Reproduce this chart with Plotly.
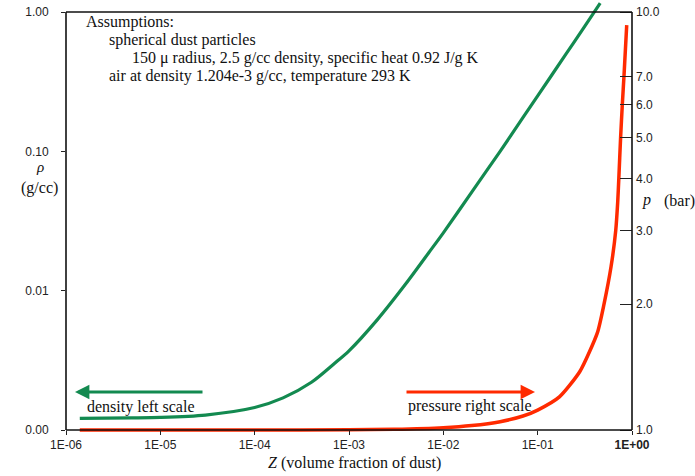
import plotly.graph_objects as go

# ---- data ----
z_density = [1.4e-6, 5e-6, 1e-5, 3e-5, 1e-4, 2e-4, 4e-4, 7e-4, 1e-3, 2e-3, 4e-3, 7e-3,
             1e-2, 2e-2, 4e-2, 7e-2, 0.1, 0.2, 0.3, 0.46]
rho_gcc = [0.00121, 0.00122, 0.00123, 0.00128, 0.00145, 0.0017, 0.0022, 0.0030, 0.0037,
           0.0062, 0.0112, 0.0187, 0.026, 0.051, 0.10, 0.175, 0.25, 0.50, 0.75, 1.16]

z_pressure = [1.4e-6, 1e-5, 1e-4, 1e-3, 3e-3, 1e-2, 2e-2, 4e-2, 7e-2, 0.1, 0.17, 0.28,
              0.43, 0.505, 0.6, 0.672, 0.705, 0.725, 0.757, 0.791, 0.823, 0.879]
p_bar = [1.0, 1.0, 1.0, 1.001, 1.004, 1.013, 1.025, 1.047, 1.08, 1.116, 1.20, 1.38,
         1.71, 2.0, 2.46, 3.0, 3.5, 4.0, 5.0, 6.05, 7.05, 9.3]

x_tickvals = [1e-6, 1e-5, 1e-4, 1e-3, 1e-2, 1e-1, 1]
x_ticktext = ["1E-06", "1E-05", "1E-04", "1E-03", "1E-02", "1E-01", "<b>1E+00</b>"]
left_tickvals = [0.001, 0.01, 0.1, 1]
left_ticktext = ["0.00", "0.01", "0.10", "1.00"]
right_tickvals = [1, 2, 3, 4, 5, 6, 7, 10]
right_ticktext = ["1.0", "2.0", "3.0", "4.0", "5.0", "6.0", "7.0", "10.0"]

GREEN = "#138a50"
RED = "#ff2a00"
SERIF = "Liberation Serif, Times New Roman, serif"
SANS = "Liberation Sans, Arial, sans-serif"

# ---- layout geometry (pixels) ----
W, H = 695, 476
L, R, T, B = 66, 632, 2, 434   # plot area edges
PW, PH = R - L, B - T


def px(x):
    return (x - L) / PW


def py(y):
    return (B - y) / PH


left_dec = 418 / 3.0
left_range = [-3 - (B - 430) / left_dec, -3 + (430 - T) / left_dec]
right_range = [-(B - 430) / 418, (430 - T) / 418]

fig = go.Figure()
fig.add_trace(go.Scatter(x=z_density, y=rho_gcc, mode="lines", yaxis="y",
                         line=dict(color=GREEN, width=3.2, shape="spline", smoothing=0.8),
                         hoverinfo="skip", showlegend=False))
fig.add_trace(go.Scatter(x=z_pressure, y=p_bar, mode="lines", yaxis="y2",
                         line=dict(color=RED, width=3.5, shape="spline", smoothing=0.6),
                         hoverinfo="skip", showlegend=False))

tickfont = dict(family=SANS, size=12, color="#222")

fig.update_layout(
    width=W, height=H,
    margin=dict(l=L, r=W - R, t=T, b=H - B),
    paper_bgcolor="white", plot_bgcolor="white",
    font=dict(family=SERIF, color="#111"),
    xaxis=dict(type="log", range=[-6, 0], tickvals=x_tickvals, ticktext=x_ticktext,
               ticks="outside", ticklen=4, tickcolor="#222", tickwidth=1.2,
               showgrid=False, zeroline=False, showline=False,
               anchor="free", position=py(430), tickfont=tickfont),
    yaxis=dict(type="log", range=left_range, tickvals=left_tickvals,
               ticktext=left_ticktext, ticks="outside", ticklen=4, tickcolor="#222",
               tickwidth=1.2, showgrid=False, zeroline=False, showline=False,
               ticklabelstandoff=10, tickfont=tickfont),
    yaxis2=dict(type="log", range=right_range, overlaying="y", side="right",
                tickvals=right_tickvals, ticktext=right_ticktext, ticks="inside",
                ticklen=12, tickcolor="#222", tickwidth=1.2, showgrid=False,
                zeroline=False, showline=False, ticklabelstandoff=3,
                tickfont=tickfont),
)

# frame
frame = dict(type="line", xref="paper", yref="paper", line=dict(color="#111", width=1.6))
fig.add_shape(**frame, x0=0, x1=1, y0=py(430), y1=py(430))
fig.add_shape(**frame, x0=0, x1=1, y0=py(12), y1=py(12))
fig.add_shape(**frame, x0=0, x1=0, y0=py(430), y1=py(12))
fig.add_shape(**frame, x0=1, x1=1, y0=py(430), y1=py(12))


def label(text, x, y, xanchor="left", size=16):
    fig.add_annotation(text=text, x=px(x), y=py(y), xref="paper", yref="paper",
                       xanchor=xanchor, yanchor="middle", showarrow=False,
                       font=dict(family=SERIF, size=size, color="#111"))


label("Assumptions:", 84, 22)
label("spherical dust particles", 107, 40)
label("150 \u03bc radius, 2.5 g/cc density, specific heat 0.92 J/g K", 130, 58)
label("air at density 1.204e-3 g/cc, temperature 293 K", 107, 76)
label("density left scale", 85, 407)
label("pressure right scale", 406, 406)
label("<i>\u03c1</i>", 40, 167, xanchor="center", size=15)
label("(g/cc)", 39, 188, xanchor="center")
label("<i>p</i>", 646, 200, xanchor="center")
label("(bar)", 679, 201, xanchor="center")
label("<i>Z</i> (volume fraction of dust)", 354, 463, xanchor="center")

# arrows
fig.add_annotation(text="", x=px(75), y=py(392), xref="paper", yref="paper",
                   ax=129, ay=0, showarrow=True, arrowhead=2, arrowsize=0.9,
                   arrowwidth=3.2, arrowcolor=GREEN)
fig.add_annotation(text="", x=px(535), y=py(392), xref="paper", yref="paper",
                   ax=-130, ay=0, showarrow=True, arrowhead=2, arrowsize=0.9,
                   arrowwidth=3.2, arrowcolor=RED)

fig.write_html("out.html", config={"displayModeBar": False},
               post_script="document.body.style.margin='0';document.body.style.overflow='hidden';")
